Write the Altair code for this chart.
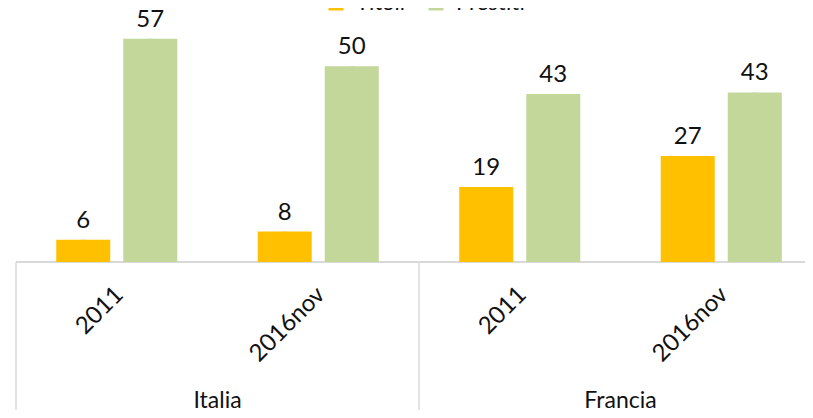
import altair as alt
import pandas as pd

# ---- data ----
countries = ["Italia", "Italia", "Francia", "Francia"]
years = ["2011", "2016nov", "2011", "2016nov"]
titoli = [5.7, 7.8, 19.2, 27.1]
prestiti = [57.1, 50.1, 43.0, 43.4]
series = ["Titoli", "Prestiti"]
colors = ["#FFC000", "#C4D79B"]

cats = [f"{c}|{y}" for c, y in zip(countries, years)]

cat_df = pd.DataFrame({"cat": cats, "country": countries, "year": years})
rows = []
for i, cat in enumerate(cats):
    rows.append({"cat": cat, "series": "Titoli", "value": titoli[i]})
    rows.append({"cat": cat, "series": "Prestiti", "value": prestiti[i]})
long_df = pd.DataFrame(rows)

PLOT_W = 789
RANGE_W = 806
PLOT_H = 254
PAD_BOTTOM = 148
FONT = "Lato"
GRID = "#d9d9d9"

x_scale = alt.Scale(domain=cats, range=[0, RANGE_W], paddingInner=0, paddingOuter=0)
y_scale = alt.Scale(domain=[0, 65], nice=False, zero=True)
off_scale = alt.Scale(domain=series, paddingInner=0.194, paddingOuter=0.6)

base_long = alt.Chart(long_df)

# soft shadow on the right edge of each bar (drawn behind the bars)
shadow = base_long.mark_rule(color="#bdbdbd", strokeWidth=6, opacity=0.7).encode(
    x=alt.X("cat:N", scale=x_scale, axis=None, bandPosition=1),
    xOffset=alt.XOffset("series:N", scale=off_scale),
    y=alt.Y("value:Q", scale=y_scale, axis=None),
    y2=alt.value(PLOT_H),
)

bars = base_long.mark_bar().encode(
    x=alt.X("cat:N", scale=x_scale, axis=None),
    xOffset=alt.XOffset("series:N", scale=off_scale),
    y=alt.Y("value:Q", scale=y_scale, axis=None),
    color=alt.Color(
        "series:N",
        scale=alt.Scale(domain=series, range=colors),
        legend=alt.Legend(
            orient="none",
            legendX=309,
            legendY=-16,
            direction="horizontal",
            title=None,
            symbolType="square",
            symbolSize=225,
            symbolStrokeWidth=0,
            labelFontSize=22,
            labelFont=FONT,
            labelColor="#111111",
            labelOffset=9,
            columnPadding=20,
        ),
    ),
)

values = base_long.mark_text(
    font=FONT, fontSize=24, dy=-12, baseline="alphabetic", color="#111111"
).encode(
    x=alt.X("cat:N", scale=x_scale, axis=None),
    xOffset=alt.XOffset("series:N", scale=off_scale),
    y=alt.Y("value:Q", scale=y_scale, axis=None),
    text=alt.Text("value:Q", format=".0f"),
)

base_cat = alt.Chart(cat_df)

baseline = base_cat.mark_rule(color=GRID, strokeWidth=1.5).encode(
    x=alt.value(0), x2=alt.value(RANGE_W), y=alt.value(PLOT_H)
)

separators = base_cat.transform_filter(alt.datum.year == "2011").mark_rule(
    color=GRID, strokeWidth=1.5
).encode(
    x=alt.X("cat:N", scale=x_scale, axis=None, bandPosition=0),
    y=alt.value(PLOT_H),
    y2=alt.value(PLOT_H + PAD_BOTTOM),
)

year_labels = base_cat.mark_text(
    font=FONT, fontSize=24, angle=315, align="right", baseline="middle",
    color="#111111", dx=4,
).encode(
    x=alt.X("cat:N", scale=x_scale, axis=None),
    y=alt.value(PLOT_H + 32),
    text="year:N",
)

country_labels = base_cat.transform_filter(alt.datum.year == "2011").mark_text(
    font=FONT, fontSize=23, align="center", baseline="alphabetic", color="#111111"
).encode(
    x=alt.X("cat:N", scale=x_scale, axis=None, bandPosition=1),
    y=alt.value(PLOT_H + 146),
    text="country:N",
)

chart = alt.layer(
    baseline, separators, shadow, bars, values, year_labels, country_labels
).properties(
    width=PLOT_W,
    height=PLOT_H,
    background="white",
    autosize=alt.AutoSizeParams(type="none"),
    padding={"left": 8, "top": 0, "right": 0, "bottom": PAD_BOTTOM},
).configure_view(stroke=None)

chart.save("out.html", embed_options={"renderer": "svg", "actions": False})
